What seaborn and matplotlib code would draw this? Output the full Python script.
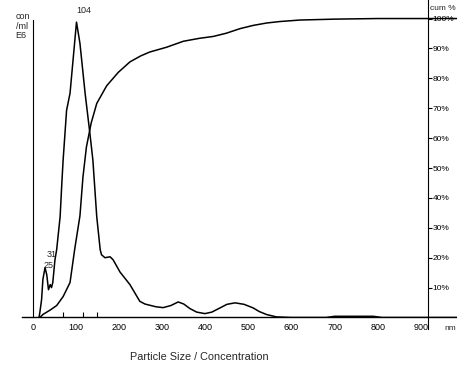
import numpy as np
import pandas as pd
import matplotlib
matplotlib.use("Agg")
import matplotlib.pyplot as plt
import seaborn as sns

# particle size (nm) vs concentration, normalised so the 104 nm peak ~ 1
conc_nm = [14, 16, 20, 23, 28, 32, 36, 40, 43, 46, 51, 55, 63, 67, 70, 78, 86,
           101, 109, 121, 132, 139, 148, 156, 159, 167, 179, 186, 202, 225, 248,
           260, 271, 285, 302, 320, 337, 350, 364, 380, 399, 415, 434, 450, 469,
           490, 511, 525, 542, 565, 600, 680, 700, 790, 810, 985]
conc_val = [0, 0.017, 0.06, 0.127, 0.167, 0.143, 0.093, 0.11, 0.10, 0.117, 0.193,
            0.227, 0.337, 0.45, 0.527, 0.693, 0.75, 0.988, 0.917, 0.75, 0.617,
            0.527, 0.337, 0.227, 0.21, 0.20, 0.203, 0.193, 0.152, 0.11, 0.054,
            0.045, 0.041, 0.036, 0.033, 0.04, 0.052, 0.045, 0.03, 0.018, 0.013,
            0.018, 0.032, 0.044, 0.049, 0.044, 0.032, 0.02, 0.01, 0.002, 0, 0,
            0.004, 0.004, 0, 0]

# cumulative distribution (fraction)
cum_nm = [16, 23, 40, 55, 70, 86, 97, 109, 116, 124, 135, 148, 171, 198, 225, 250,
          271, 310, 349, 387, 418, 449, 480, 511, 542, 573, 620, 700, 800, 985]
cum_val = [0, 0.01, 0.025, 0.04, 0.07, 0.117, 0.23, 0.34, 0.47, 0.57, 0.65, 0.716,
           0.775, 0.82, 0.855, 0.875, 0.888, 0.904, 0.924, 0.934, 0.94, 0.951,
           0.966, 0.977, 0.985, 0.99, 0.995, 0.998, 1.0, 1.0]

x_ticks = [0, 100, 200, 300, 400, 500, 600, 700, 800, 900]
cum_ticks = [0.1, 0.2, 0.3, 0.4, 0.5, 0.6, 0.7, 0.8, 0.9, 1.0]
cum_labels = ["10%", "20%", "30%", "40%", "50%", "60%", "70%", "80%", "90%", "100%"]
marker_nm = [70, 117, 148]
# peak annotations: text, size, height of the text baseline
peak_labels = [("104", 101, 1.018), ("25", 25, 0.165), ("31", 31, 0.203)]

conc = pd.DataFrame({"nm": conc_nm, "val": conc_val})
cum = pd.DataFrame({"nm": cum_nm, "val": cum_val})

sns.set_style("white")
plt.rcParams["font.family"] = ["Liberation Sans", "DejaVu Sans"]

fig = plt.figure(figsize=(4.57, 3.73), dpi=100)
ax = fig.add_axes([0.0481, 0.1488, 0.9519, 0.8512])

sns.lineplot(data=conc, x="nm", y="val", ax=ax, color="black", lw=1.1)
sns.lineplot(data=cum, x="nm", y="val", ax=ax, color="black", lw=1.1)

ax.set_xlim(-25.5, 984)
ax.set_ylim(0, 1.062)
ax.set_xlabel("")
ax.set_ylabel("")

ax.spines["top"].set_visible(False)
ax.spines["bottom"].set_linewidth(1.0)
ax.spines["left"].set_position(("data", 0))
ax.spines["left"].set_bounds(0, 0.995)
ax.spines["left"].set_linewidth(0.8)
ax.spines["right"].set_position(("data", 916))
ax.spines["right"].set_bounds(-0.04, 1.062)
ax.spines["right"].set_linewidth(0.8)
for s in ["left", "right", "bottom"]:
    ax.spines[s].set_color("black")

ax.set_xticks(x_ticks)
ax.set_xticklabels([str(t) for t in x_ticks])
ax.tick_params(axis="x", direction="inout", length=5, width=0.8, labelsize=6.5,
               pad=1.5, colors="black")
ax.yaxis.tick_right()
ax.set_yticks(cum_ticks)
ax.set_yticklabels(cum_labels)
ax.tick_params(axis="y", direction="out", length=3, width=0.8, labelsize=6,
               pad=0.5, colors="black")

# small marks on the size axis
ax.vlines(marker_nm, 0, 0.018, color="black", lw=0.8)

for txt, xv, yv in peak_labels:
    ax.text(xv, yv, txt, fontsize=6.5, ha="left", va="baseline")

fig.text(0.034, 0.968, "con\n/ml\nE6", fontsize=6.5, ha="left", va="top",
         linespacing=1.1)
fig.text(0.941, 0.987, "cum %", fontsize=6, ha="left", va="top")
fig.text(0.972, 0.128, "nm", fontsize=6, ha="left", va="top")
fig.text(0.436, 0.043, "Particle Size / Concentration",
         family=["Liberation Sans Narrow", "Liberation Sans"], fontsize=7.8,
         ha="center", va="center")

fig.savefig("out.png", dpi=100)
